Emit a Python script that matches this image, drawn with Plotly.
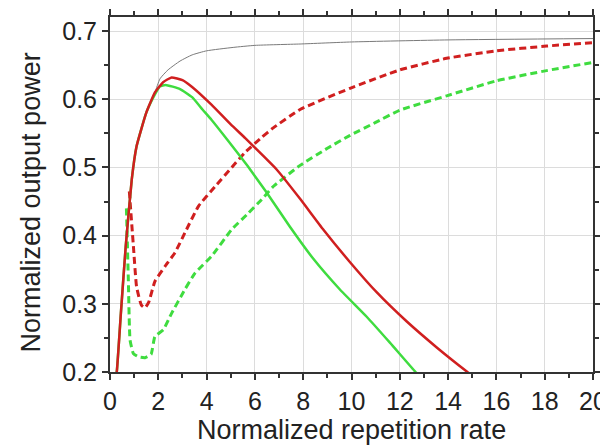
import plotly.graph_objects as go

# Data
red_solid_x = [0.2, 0.28, 0.45, 0.65, 0.9, 1.1, 1.5, 1.86, 2.2, 2.55, 3.0, 3.4, 4.2, 5.0, 5.6, 6.4, 6.9, 7.87, 8.83, 9.94, 11.04, 12.29, 13.53, 14.8, 14.95]
red_solid_y = [0.185, 0.2, 0.286, 0.384, 0.482, 0.531, 0.58, 0.61, 0.625, 0.632, 0.628, 0.618, 0.592, 0.563, 0.543, 0.515, 0.497, 0.454, 0.409, 0.361, 0.317, 0.274, 0.236, 0.2, 0.196]

green_solid_x = [0.2, 0.28, 0.45, 0.65, 0.9, 1.1, 1.5, 1.86, 2.07, 2.3, 2.9, 3.4, 3.83, 4.2, 4.85, 5.7, 6.45, 7.45, 8.42, 9.52, 10.63, 11.59, 12.65, 12.8]
green_solid_y = [0.185, 0.2, 0.286, 0.384, 0.482, 0.531, 0.58, 0.607, 0.619, 0.621, 0.615, 0.603, 0.585, 0.57, 0.541, 0.502, 0.465, 0.413, 0.366, 0.321, 0.281, 0.243, 0.2, 0.195]

red_dash_x = [0.8, 0.97, 1.1, 1.3, 1.45, 1.6, 1.86, 2.28, 2.69, 3.1, 3.66, 4.35, 5.04, 5.59, 6.28, 6.76, 7.87, 9.94, 12.0, 13.94, 16.0, 18.08, 20.0]
red_dash_y = [0.465, 0.384, 0.325, 0.298, 0.294, 0.302, 0.333, 0.355, 0.375, 0.404, 0.443, 0.472, 0.5, 0.522, 0.544, 0.558, 0.585, 0.616, 0.643, 0.66, 0.671, 0.678, 0.683]

green_dash_x = [0.68, 0.76, 0.83, 0.97, 1.2, 1.45, 1.7, 1.86, 2.21, 2.55, 3.1, 3.52, 4.21, 5.04, 5.73, 6.28, 6.76, 7.87, 9.0, 9.94, 11.0, 12.0, 13.94, 16.0, 18.08, 20.0]
green_dash_y = [0.44, 0.335, 0.247, 0.227, 0.222, 0.221, 0.226, 0.252, 0.262, 0.286, 0.321, 0.345, 0.37, 0.409, 0.433, 0.453, 0.472, 0.503, 0.528, 0.547, 0.566, 0.584, 0.605, 0.627, 0.642, 0.654]

gray_x = [0.2, 0.28, 0.45, 0.65, 0.9, 1.1, 1.5, 1.86, 2.07, 2.4, 2.9, 3.4, 4.0, 5.1, 6.0, 7.87, 10.0, 14.0, 20.0]
gray_y = [0.185, 0.2, 0.286, 0.384, 0.482, 0.531, 0.58, 0.61, 0.63, 0.643, 0.656, 0.665, 0.671, 0.676, 0.679, 0.681, 0.684, 0.687, 0.689]

x_ticks = [0, 2, 4, 6, 8, 10, 12, 14, 16, 18, 20]
y_ticks = [0.2, 0.3, 0.4, 0.5, 0.6, 0.7]
x_title = "Normalized repetition rate"
y_title = "Normalized output power"

RED = "#d01f1f"
GREEN = "#3fdc3f"

fig = go.Figure()
fig.add_trace(go.Scatter(x=gray_x, y=gray_y, mode="lines",
                         line=dict(color="#7a7a7a", width=1, shape="spline", smoothing=0.5)))
fig.add_trace(go.Scatter(x=green_dash_x, y=green_dash_y, mode="lines",
                         line=dict(color=GREEN, width=3, dash="7px,4px", shape="spline", smoothing=0.4)))
fig.add_trace(go.Scatter(x=red_dash_x, y=red_dash_y, mode="lines",
                         line=dict(color=RED, width=3, dash="7px,4px", shape="spline", smoothing=0.4)))
fig.add_trace(go.Scatter(x=green_solid_x, y=green_solid_y, mode="lines",
                         line=dict(color=GREEN, width=2.5, shape="spline", smoothing=0.4)))
fig.add_trace(go.Scatter(x=red_solid_x, y=red_solid_y, mode="lines",
                         line=dict(color=RED, width=2.5, shape="spline", smoothing=0.4)))

font_family = "Liberation Sans, Arial, sans-serif"
# page body has an 8px margin, so the figure is 600x438 placed at (8, 8)
fig.update_layout(
    width=600, height=438,
    margin=dict(l=102, r=15, t=9, b=74),
    paper_bgcolor="white", plot_bgcolor="white",
    showlegend=False,
    font=dict(family=font_family, color="#222222"),
    xaxis=dict(
        range=[0, 20], tickvals=x_ticks, ticktext=[str(v) for v in x_ticks],
        ticks="outside", ticklen=6, tickwidth=1.5, tickcolor="#333",
        showline=True, linecolor="#333", linewidth=2, mirror="ticks",
        showgrid=True, gridcolor="#dcdcdc", gridwidth=1, zeroline=False,
        minor=dict(dtick=1, tick0=0, ticks="outside", ticklen=4, tickcolor="#333", showgrid=False),
        tickfont=dict(size=25), automargin=False,
    ),
    yaxis=dict(
        range=[0.2, 0.7206], tickvals=y_ticks, ticktext=["%.1f" % v for v in y_ticks],
        ticks="outside", ticklen=6, tickwidth=1.5, tickcolor="#333",
        showline=True, linecolor="#333", linewidth=2, mirror="ticks",
        showgrid=True, gridcolor="#dcdcdc", gridwidth=1, zeroline=False,
        minor=dict(dtick=0.05, tick0=0.2, ticks="outside", ticklen=4, tickcolor="#333", showgrid=False),
        tickfont=dict(size=25), automargin=False,
    ),
    annotations=[
        dict(text=x_title, xref="paper", yref="paper", x=0.5, y=0,
             xanchor="center", yanchor="middle", yshift=-58, showarrow=False,
             font=dict(size=27, family=font_family, color="#222222")),
        dict(text=y_title, xref="paper", yref="paper", x=0, y=0.5,
             xanchor="center", yanchor="middle", xshift=-80, yshift=-8,
             textangle=-90, showarrow=False,
             font=dict(size=27, family=font_family, color="#222222")),
    ],
)

fig.write_html("out.html")
